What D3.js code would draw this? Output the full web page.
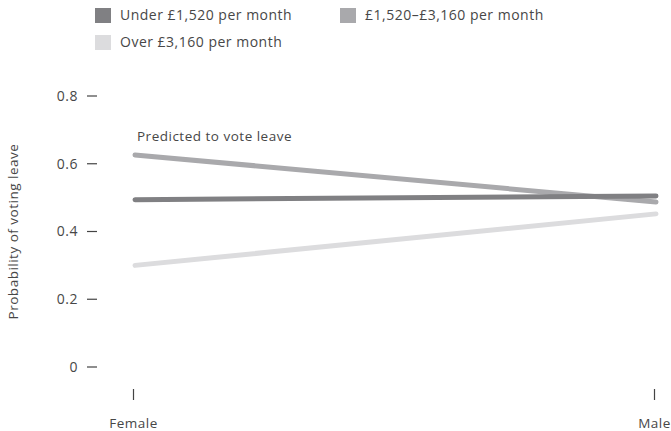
<!DOCTYPE html>
<html><head><meta charset="utf-8">
<script src="https://cdn.jsdelivr.net/npm/d3@7"></script>
<style>body{margin:0;background:#fff}text{font-family:"Open Sans",sans-serif;fill:#474747;letter-spacing:0.5px}</style>
</head><body><svg id="c" width="671" height="431"></svg>
<script>
const categories = ["Female", "Male"];
const seriesNames = ["Under £1,520 per month", "£1,520–£3,160 per month", "Over £3,160 per month"];
const underValues = [0.494, 0.505];
const middleValues = [0.626, 0.487];
const overValues = [0.300, 0.452];
const yTicks = [0, 0.2, 0.4, 0.6, 0.8];
const yTickLabels = ["0", "0.2", "0.4", "0.6", "0.8"];
const colors = ["#808083", "#a9a9ac", "#dcdcde"];
const series = [
  {name: seriesNames[0], values: underValues, color: colors[0]},
  {name: seriesNames[1], values: middleValues, color: colors[1]},
  {name: seriesNames[2], values: overValues, color: colors[2]}
];

const svg = d3.select("#c");
const x = d3.scalePoint().domain(categories).range([135, 656]);
const y = d3.scaleLinear().domain([0, 0.8]).range([367, 96]);

// y axis ticks
const yg = svg.append("g");
yTicks.forEach((t, i) => {
  yg.append("line").attr("x1", 87).attr("x2", 97).attr("y1", y(t)).attr("y2", y(t))
    .attr("stroke", "#444").attr("stroke-width", 1.2);
  yg.append("text").attr("x", 78).attr("y", y(t)).attr("dy", "0.35em")
    .attr("text-anchor", "end").attr("font-size", 14).text(yTickLabels[i]);
});
svg.append("text").attr("transform", `translate(18,${(y(0)+y(0.8))/2}) rotate(-90)`)
  .attr("text-anchor", "middle").attr("font-size", 13.5).text("Probability of voting leave");

// x axis ticks
categories.forEach(c => {
  svg.append("line").attr("x1", x(c)-1.5).attr("x2", x(c)-1.5).attr("y1", 389).attr("y2", 400)
    .attr("stroke", "#444").attr("stroke-width", 1.2);
  svg.append("text").attr("x", x(c)-1.5).attr("y", 428).attr("text-anchor", "middle")
    .attr("font-size", 13.5).text(c);
});

// lines
const line = d3.line().x((d, i) => x(categories[i])).y(d => y(d));
[series[2], series[1], series[0]].forEach(s => {
  svg.append("path").datum(s.values).attr("d", line).attr("fill", "none")
    .attr("stroke", s.color).attr("stroke-width", 5).attr("stroke-linecap", "round");
});
svg.append("text").attr("x", 137).attr("y", 141).attr("font-size", 13.5).text("Predicted to vote leave");

// legend
const legendPos = [[95, 8], [340, 8], [95, 35]];
series.forEach((s, i) => {
  const [lx, ly] = legendPos[i];
  svg.append("rect").attr("x", lx).attr("y", ly).attr("width", 16).attr("height", 15).attr("fill", s.color);
  svg.append("text").attr("x", lx + 25).attr("y", ly + 7.5).attr("dy", "0.35em")
    .attr("font-size", 14).text(s.name);
});
</script></body></html>
